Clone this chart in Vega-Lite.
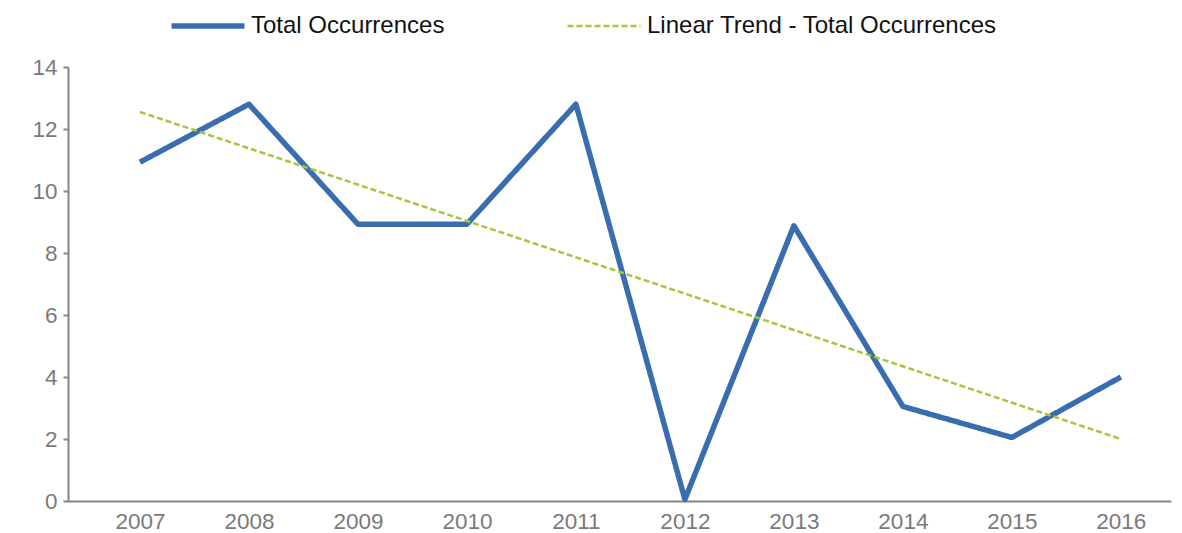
{
  "$schema": "https://vega.github.io/schema/vega-lite/v6.json",
  "width": 1103,
  "height": 434,
  "autosize": {"type": "none"},
  "padding": {"left": 68, "top": 67, "right": 11, "bottom": 32},
  "background": "white",
  "config": {
    "view": {"stroke": null},
    "font": "Liberation Sans"
  },
  "data": {
    "values": [
      {"year": 2007, "value": 10.93, "series": "Total Occurrences"},
      {"year": 2008, "value": 12.8, "series": "Total Occurrences"},
      {"year": 2009, "value": 8.93, "series": "Total Occurrences"},
      {"year": 2010, "value": 8.93, "series": "Total Occurrences"},
      {"year": 2011, "value": 12.8, "series": "Total Occurrences"},
      {"year": 2012, "value": 0.05, "series": "Total Occurrences"},
      {"year": 2013, "value": 8.88, "series": "Total Occurrences"},
      {"year": 2014, "value": 3.05, "series": "Total Occurrences"},
      {"year": 2015, "value": 2.05, "series": "Total Occurrences"},
      {"year": 2016, "value": 4.0, "series": "Total Occurrences"},
      {"year": 2007, "value": 12.55, "series": "Linear Trend - Total Occurrences"},
      {"year": 2016, "value": 2.0, "series": "Linear Trend - Total Occurrences"}
    ]
  },
  "encoding": {
    "x": {
      "field": "year",
      "type": "quantitative",
      "scale": {"domain": [2006.34, 2016.46], "nice": false, "zero": false},
      "axis": {
        "title": null,
        "values": [2007, 2008, 2009, 2010, 2011, 2012, 2013, 2014, 2015, 2016],
        "format": "d",
        "grid": false,
        "ticks": false,
        "domainColor": "#858585",
        "domainWidth": 2,
        "labelColor": "#7a7a7a",
        "labelFontSize": 22.5,
        "labelPadding": 9,
        "labelFont": "Liberation Sans"
      }
    },
    "y": {
      "field": "value",
      "type": "quantitative",
      "scale": {"domain": [0, 14], "nice": false},
      "axis": {
        "title": null,
        "values": [0, 2, 4, 6, 8, 10, 12, 14],
        "grid": false,
        "domainColor": "#858585",
        "domainWidth": 2,
        "tickColor": "#858585",
        "tickWidth": 2,
        "tickSize": 5,
        "labelColor": "#7a7a7a",
        "labelFontSize": 22.5,
        "labelPadding": 6,
        "labelFont": "Liberation Sans"
      }
    },
    "color": {
      "field": "series",
      "type": "nominal",
      "scale": {
        "domain": ["Total Occurrences", "Linear Trend - Total Occurrences"],
        "range": ["#3a6db0", "#a2c83c"]
      },
      "legend": {
        "title": null,
        "orient": "none",
        "direction": "horizontal",
        "legendX": 128,
        "legendY": -53,
        "symbolType": "stroke",
        "symbolSize": 5329,
        "symbolStrokeWidth": 3,
        "labelFontSize": 24,
        "labelColor": "#111111",
        "labelFont": "Liberation Sans",
        "labelLimit": 0,
        "labelOffset": 31,
        "columnPadding": 117,
        "encode": {
          "symbols": {
            "update": {
              "strokeWidth": {"signal": "datum.value === 'Total Occurrences' ? 5.5 : 2.5"}
            }
          }
        }
      }
    },
    "strokeDash": {
      "field": "series",
      "type": "nominal",
      "scale": {
        "domain": ["Total Occurrences", "Linear Trend - Total Occurrences"],
        "range": [[1, 0], [6, 3]]
      },
      "legend": {
        "title": null,
        "orient": "none",
        "direction": "horizontal",
        "legendX": 128,
        "legendY": -53,
        "symbolType": "stroke",
        "symbolSize": 5329,
        "symbolStrokeWidth": 3,
        "labelFontSize": 24,
        "labelColor": "#111111",
        "labelFont": "Liberation Sans",
        "labelLimit": 0,
        "labelOffset": 31,
        "columnPadding": 117,
        "encode": {
          "symbols": {
            "update": {
              "strokeWidth": {"signal": "datum.value === 'Total Occurrences' ? 5.5 : 2.5"}
            }
          }
        }
      }
    }
  },
  "layer": [
    {
      "transform": [{"filter": "datum.series === 'Total Occurrences'"}],
      "mark": {"type": "line", "strokeWidth": 5.5, "strokeJoin": "round"}
    },
    {
      "transform": [{"filter": "datum.series !== 'Total Occurrences'"}],
      "mark": {"type": "line", "strokeWidth": 2.5}
    }
  ]
}
